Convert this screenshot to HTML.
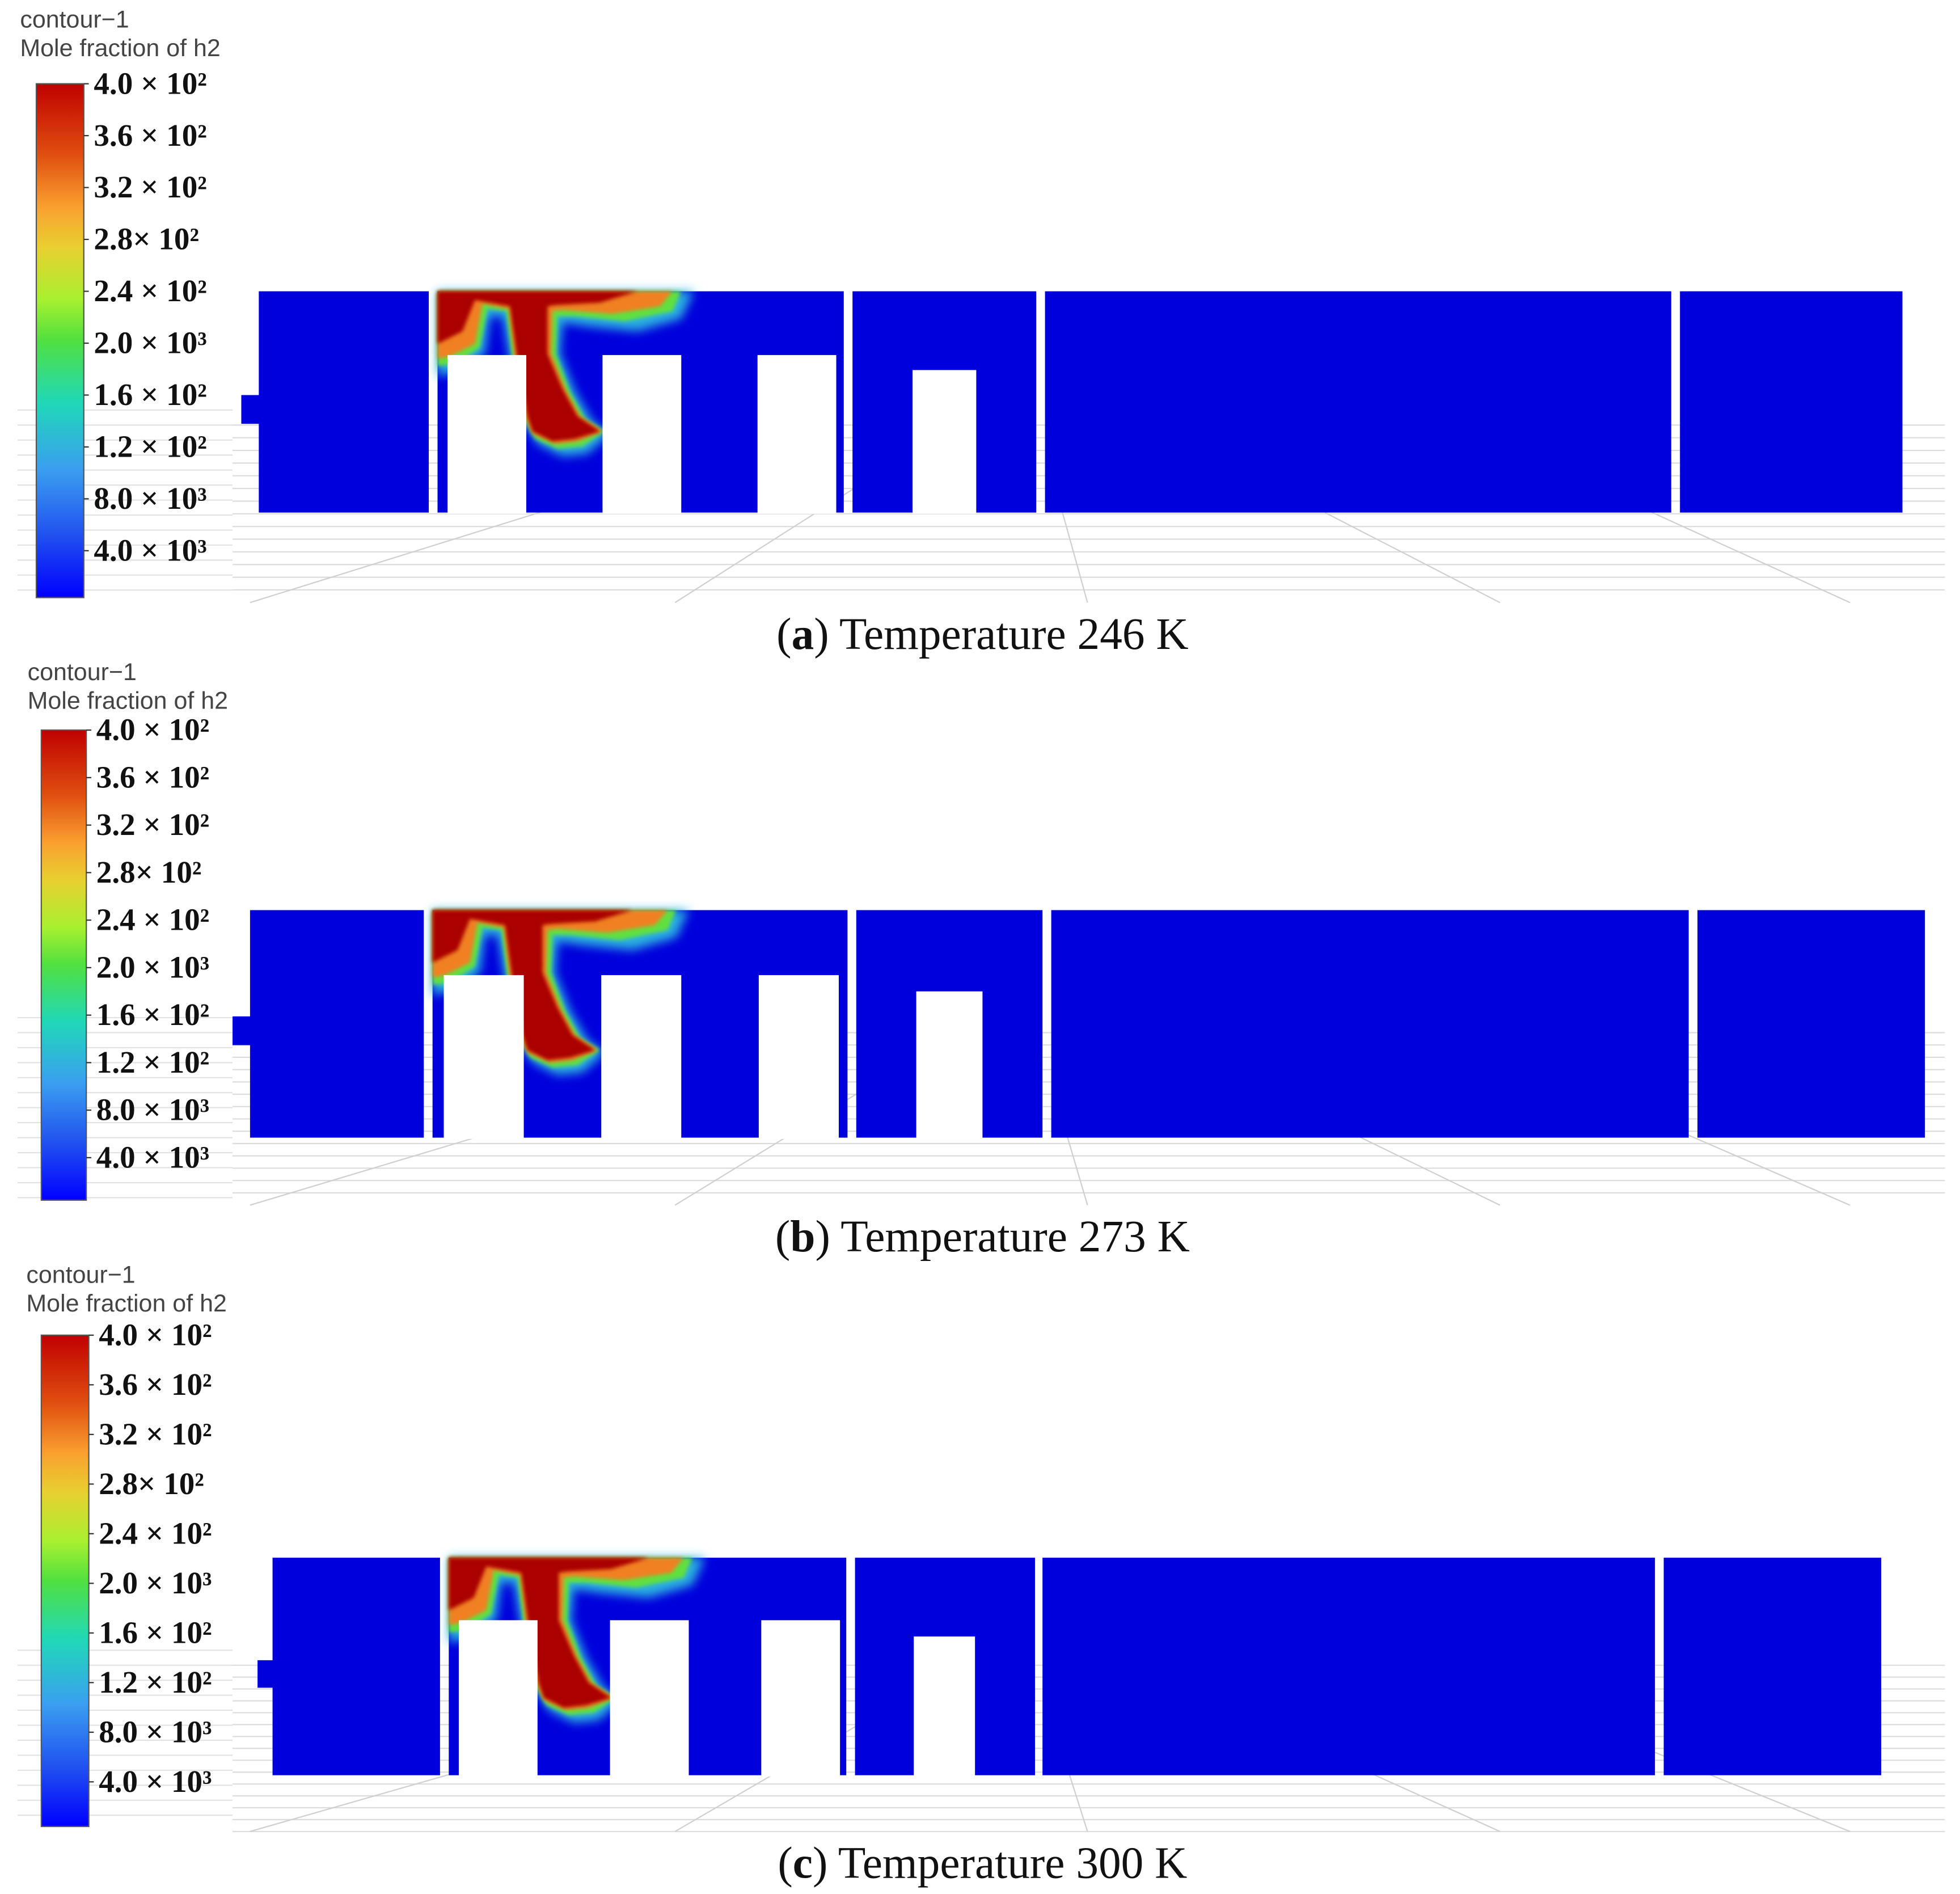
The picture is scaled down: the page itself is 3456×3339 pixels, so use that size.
<!DOCTYPE html>
<html><head><meta charset="utf-8">
<style>
html,body{margin:0;padding:0;background:#fff;}
svg{display:block;}
.lbl{font-family:"Liberation Serif",serif;font-size:25px;font-weight:bold;fill:#111;}
.ttl{font-family:"Liberation Sans",sans-serif;font-size:19.5px;fill:#444;}
.cap{font-family:"Liberation Serif",serif;font-size:36px;fill:#111;}
</style></head>
<body>
<svg id="fig" width="3456" height="3339" viewBox="0 0 1568 1515" xmlns="http://www.w3.org/2000/svg">
<defs>
<linearGradient id="jet" x1="0" y1="1" x2="0" y2="0">
<stop offset="0" stop-color="#0000ff"/><stop offset="0.12" stop-color="#2050f0"/>
<stop offset="0.25" stop-color="#3a9ff0"/><stop offset="0.38" stop-color="#20d8b8"/>
<stop offset="0.5" stop-color="#50e040"/><stop offset="0.58" stop-color="#a8f030"/>
<stop offset="0.68" stop-color="#e8d030"/><stop offset="0.76" stop-color="#faa030"/>
<stop offset="0.86" stop-color="#e05010"/><stop offset="1" stop-color="#c00000"/>
</linearGradient>
<filter id="bl4" x="-20%" y="-20%" width="140%" height="140%"><feGaussianBlur stdDeviation="4"/></filter>
<filter id="bl2" x="-20%" y="-20%" width="140%" height="140%"><feGaussianBlur stdDeviation="1.6"/></filter>
</defs>
</svg>
<script>
const tickLabels = ["4.0 × 10²","3.6 × 10²","3.2 × 10²","2.8× 10²","2.4 × 10²","2.0 × 10³","1.6 × 10²","1.2 × 10²","8.0 × 10³","4.0 × 10³"];
const captionBold = ["a","b","c"];
const captionTemps = ["246","273","300"];
const panels = [
 {cb:[29,67,67,478], ticks0:67, tickStep:41.5, title:[16,16], top:233, bot:410, r1:[207,343], stub:[193,316,339], r2:[350,675], blocks:[[358,421],[482,545],[606,669]], btop:284, r3:[682,829], b3:[730,781], b3top:296, r4:[836,1337], r5:[1344,1522], cap:[786,519], grid:[340,482]},
 {cb:[33,69,584,960], ticks0:584, tickStep:38, title:[22,538], top:728, bot:910, r1:[200,339], stub:[186,813,836], r2:[346,678], blocks:[[355,419],[481,545],[607,671]], btop:780, r3:[685,834], b3:[733,786], b3top:793, r4:[841,1351], r5:[1358,1540], cap:[786,1001], grid:[826,964]},
 {cb:[33,71,1068,1461], ticks0:1068, tickStep:39.7, title:[21,1020], top:1246, bot:1420, r1:[218,352], stub:[206,1328,1350], r2:[359,677], blocks:[[367,430],[488,551],[609,672]], btop:1296, r3:[684,828], b3:[731,780], b3top:1309, r4:[834,1324], r5:[1331,1505], cap:[786,1502], grid:[1332,1465]}
];
const svg = document.getElementById('fig');
const NS = "http://www.w3.org/2000/svg";
function mk(tag, attrs, parent){const e=document.createElementNS(NS,tag);for(const k in attrs)e.setAttribute(k,attrs[k]);(parent||svg).appendChild(e);return e;}
const BLUE="#0000dc";
panels.forEach((p,i)=>{
 const g=mk('g',{});
 
 
 for(let y=p.grid[0];y<=p.grid[1];y+=(p.grid[1]-p.grid[0])/14){
  const l=mk('line',{x1:186,x2:1556,y1:y,y2:y,stroke:'#dcdcdc','stroke-width':1},g);
  
  
 }
 for(let y=p.grid[0]-12;y<=p.cb[3];y+=12){
  const l=mk('line',{x1:14,x2:186,y1:y,y2:y,stroke:'#e2e2e2','stroke-width':1},g);
  
  
 }
 [[200,p.grid[1],560,p.grid[0]+30],[540,p.grid[1],700,p.grid[0]+40],[850,p.grid[0]+70,870,p.grid[1]],[1200,p.grid[1],1060,p.grid[0]+70],[1480,p.grid[1],1300,p.grid[0]+60]].forEach(c=>{
  const l=mk('line',{x1:c[0],y1:c[1],x2:c[2],y2:c[3],stroke:'#cfcfcf','stroke-width':1},g);
  
  
 });
 const t1=mk('text',{x:p.title[0],y:p.title[1]+6,class:'ttl'},g);t1.textContent='contour\u22121';
 
 
 const t2=mk('text',{x:p.title[0],y:p.title[1]+29,class:'ttl'},g);t2.textContent='Mole fraction of h2';
 
 
 const cb=mk('rect',{x:p.cb[0],y:p.cb[2],width:p.cb[1]-p.cb[0],height:p.cb[3]-p.cb[2],fill:'url(#jet)',stroke:'#555','stroke-width':1},g);
 
 
 tickLabels.forEach((s,k)=>{
  const y=p.ticks0+k*p.tickStep;
  const tk=mk('line',{x1:p.cb[1],x2:p.cb[1]+4,y1:y,y2:y,stroke:'#333'},g);
  
  
  const tx=mk('text',{x:p.cb[1]+8,y:y+8,class:'lbl'},g);tx.textContent=s;
  
  
 });
 const H=p.bot-p.top;
 const rooms=[p.r1,p.r2,p.r3,p.r4,p.r5];
 rooms.forEach((r,k)=>{
  const rr=mk('rect',{x:r[0],y:p.top,width:r[1]-r[0],height:H,fill:BLUE},g);
  
  
 });
 const st=mk('rect',{x:p.stub[0],y:p.stub[1],width:p.r1[0]-p.stub[0]+1,height:p.stub[2]-p.stub[1],fill:BLUE},g);
 
 
 const x0=p.r2[0], y0=p.top;
 const pg=mk('g',{},g);
 
 
 const P=(pts)=>pts.map((q,j)=>(j?'L':'M')+(x0+q[0])+','+(y0+q[1])).join(' ')+'Z';
 mk('path',{d:P([[0,0],[205,0],[195,22],[160,32],[120,28],[100,25],[98,50],[110,80],[124,104],[138,114],[120,130],[100,132],[80,122],[66,100],[58,55],[52,20],[42,20],[38,50],[18,64],[0,68]]),fill:'#2ab0e0',filter:'url(#bl4)'},pg);
 mk('path',{d:P([[0,0],[195,0],[188,16],[150,24],[110,20],[96,20],[95,50],[106,80],[118,102],[134,112],[116,124],[96,126],[78,118],[68,100],[60,55],[55,16],[40,14],[34,45],[14,58],[0,60]]),fill:'#60e040',filter:'url(#bl2)'},pg);
 mk('path',{d:P([[0,0],[188,0],[178,12],[140,18],[100,15],[92,16],[91,50],[103,80],[114,100],[132,112],[112,120],[94,122],[76,114],[70,100],[62,55],[57,14],[36,10],[30,42],[10,52],[0,54]]),fill:'#f08020',filter:'url(#bl2)'},pg);
 mk('path',{d:P([[0,0],[160,0],[130,9],[95,11],[88,12],[88,50],[100,78],[112,100],[130,112],[110,118],[92,120],[76,112],[72,100],[64,55],[58,12],[30,7],[20,32],[0,42]]),fill:'#aa0000',filter:'url(#bl2)'},pg);
 p.blocks.concat([p.b3]).forEach((b,k)=>{
  const bt=k<3?p.btop:p.b3top;
  const wb=mk('rect',{x:b[0],y:bt,width:b[1]-b[0],height:p.bot-bt+1,fill:'#fff'},g);
  
  
 });
 const c=mk('text',{x:p.cap[0],y:p.cap[1],class:'cap','text-anchor':'middle'},g);
 
 
 c.innerHTML='(<tspan font-weight="bold">'+captionBold[i]+'</tspan>) Temperature '+captionTemps[i]+' K';
});
</script>
</body></html>
